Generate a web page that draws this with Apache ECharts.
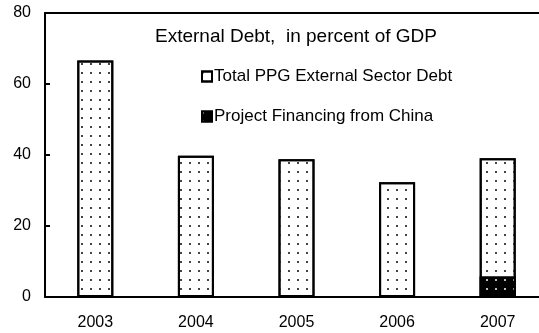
<!DOCTYPE html>
<html><head><meta charset="utf-8">
<script src="https://cdn.jsdelivr.net/npm/echarts@6/dist/echarts.min.js"></script>
<style>html,body{margin:0;padding:0;background:#fff}#c{width:539px;height:333px}</style>
</head><body><div id="c"></div>
<script>
const years = ['2003','2004','2005','2006','2007'];
const totalDebt = [66.6, 39.8, 38.8, 32.3, 39.1];
const chinaFinancing = [null, null, null, null, 5.8];
const yTicks = [0, 20, 40, 60, 80];

const FONT = '"Liberation Sans", Arial, sans-serif';
const chart = echarts.init(document.getElementById('c'), null, {renderer: 'canvas'});
chart.setOption({
  animation: false,
  textStyle: {fontFamily: FONT, color: '#000'},
  title: {
    text: 'External Debt,  in percent of GDP',
    left: 150, top: 22,
    textStyle: {fontFamily: FONT, fontSize: 19, fontWeight: 'normal', color: '#000'}
  },
  legend: {
    orient: 'vertical', left: 196, top: 63, itemGap: 23,
    itemWidth: 10, itemHeight: 10, icon: 'rect',
    textStyle: {fontFamily: FONT, fontSize: 17, color: '#000', padding: [0,0,0,-3]},
    data: ['Total PPG External Sector Debt', 'Project Financing from China']
  },
  grid: {left: 45, top: 13, bottom: 36, width: 503, containLabel: false, outerBoundsMode: 'none'},
  xAxis: [{
    type: 'category', data: years, position: 'bottom',
    axisLine: {lineStyle: {color: '#000', width: 2}},
    axisTick: {inside: true, length: 5, lineStyle: {color: '#000', width: 2}},
    axisLabel: {fontFamily: FONT, fontSize: 16, color: '#000', margin: 18}
  }, {
    type: 'category', data: years, position: 'top',
    axisLine: {show: true, lineStyle: {color: '#000', width: 2}},
    axisTick: {show: false}, axisLabel: {show: false}
  }],
  yAxis: {
    type: 'value', min: yTicks[0], max: yTicks[yTicks.length-1], interval: 20,
    axisLine: {show: true, lineStyle: {color: '#000', width: 2}},
    axisTick: {show: true, inside: true, length: 5, lineStyle: {color: '#000', width: 2}},
    splitLine: {show: false},
    axisLabel: {fontFamily: FONT, fontSize: 16, color: '#000', margin: 14}
  },
  series: [{
    name: 'Total PPG External Sector Debt', type: 'bar', data: totalDebt,
    barWidth: 36, barGap: '-100%',
    itemStyle: {
      color: '#fff', borderColor: '#000', borderWidth: 2,
      decal: {symbol: 'rect', color: '#444', dashArrayX: [1.5, 6.5], dashArrayY: [1.5, 6.5], symbolSize: 1, rotation: 0}
    }
  }, {
    name: 'Project Financing from China', type: 'bar', data: chinaFinancing,
    barWidth: 36, barGap: '-100%',
    itemStyle: {
      color: '#000', borderColor: '#000', borderWidth: 2,
      decal: {symbol: 'rect', color: '#bbb', dashArrayX: [1.5, 6.5], dashArrayY: [1.5, 6.5], symbolSize: 1, rotation: 0}
    }
  }]
});
</script></body></html>
